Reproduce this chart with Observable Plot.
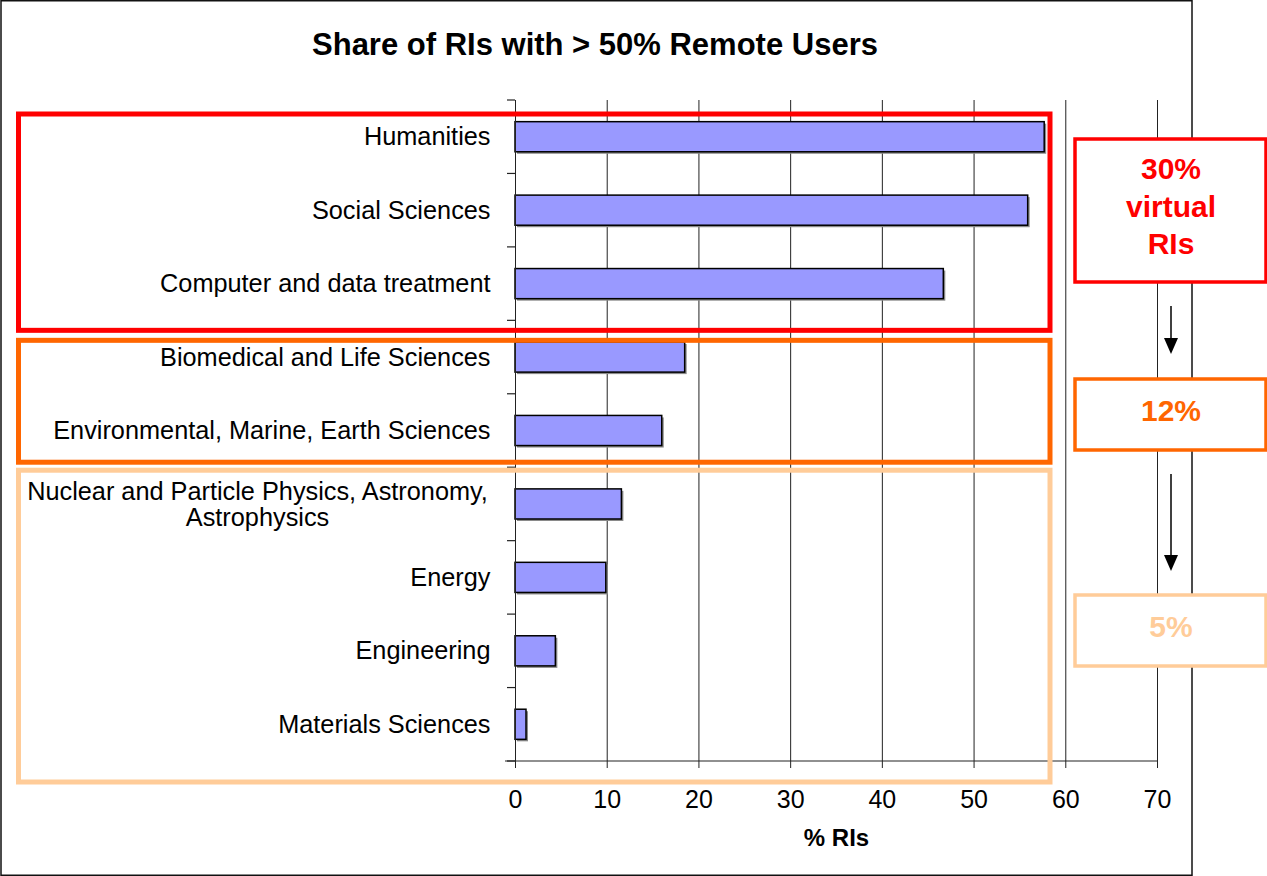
<!DOCTYPE html>
<html><head><meta charset="utf-8">
<script src="https://cdn.jsdelivr.net/npm/d3@7"></script>
<script src="https://cdn.jsdelivr.net/npm/@observablehq/plot@0.6"></script>
<style>
body{margin:0;background:#fff;}
#chart svg{display:block;font-family:"Liberation Sans",Arial,sans-serif;}
</style>
</head><body><div id="chart"></div>
<script>
const title = "Share of RIs with > 50% Remote Users";
const categories = [
  "Humanities",
  "Social Sciences",
  "Computer and data treatment",
  "Biomedical and Life Sciences",
  "Environmental, Marine, Earth Sciences",
  "Nuclear and Particle Physics, Astronomy,\nAstrophysics",
  "Energy",
  "Engineering",
  "Materials Sciences"
];
const values = [57.7, 55.9, 46.7, 18.5, 16.0, 11.6, 9.9, 4.4, 1.2];
const xTicks = [0, 10, 20, 30, 40, 50, 60, 70];
const xLabel = "% RIs";
// category groups (first index, last index) and their side notes
const groupFirst = [0, 3, 5];
const groupLast = [2, 4, 8];
const groupColors = ["#ff0000", "#ff6600", "#ffcc99"];
const groupNotes = [["30%", "virtual", "RIs"], ["12%"], ["5%"]];

const data = categories.map((c, i) => ({cat: c, value: values[i]}));
const single = data.filter(d => !d.cat.includes("\n"));
const multi = data.filter(d => d.cat.includes("\n"));

const W = 1267, H = 876;
const plot = Plot.plot({
  width: W, height: H,
  marginLeft: 515, marginRight: 110, marginTop: 100, marginBottom: 115,
  x: {domain: [0, 70], ticks: xTicks},
  y: {domain: categories, paddingInner: 0.59, paddingOuter: 0.295, round: false, axis: null},
  style: {fontFamily: '"Liberation Sans", Arial, sans-serif', fontSize: "24px", color: "#000", background: "#fff"},
  marks: [
    Plot.gridX(xTicks, {stroke: "#222", strokeOpacity: 1, strokeWidth: 1}),
    Plot.barX(data, {x: "value", y: "cat", fill: "#8a8a8a", dx: 2, dy: 2}),
    Plot.barX(data, {x: "value", y: "cat", fill: "#9999ff", stroke: "#000", strokeWidth: 1.5}),
    Plot.ruleX([0], {stroke: "#222"}),
    Plot.axisX(xTicks, {tickSize: 7, tickPadding: 22, fontSize: 25, label: null, stroke: "#222"}),
    Plot.text(single, {x: 0, y: "cat", text: "cat", textAnchor: "end", dx: -25, fontSize: 25.3}),
    Plot.text(multi, {x: 0, y: "cat", text: "cat", textAnchor: "middle", dx: -258, fontSize: 25.3, lineHeight: 1.05}),
    Plot.text([xLabel], {frameAnchor: "bottom", dy: 84, fontWeight: "bold", fontSize: 24, text: d => d})
  ]
});
document.getElementById("chart").appendChild(plot);

const svg = d3.select(plot);
const ys = plot.scale("y");
const xs = plot.scale("x");
const y0 = Math.min(...ys.range);
const b = i => y0 + i * ys.step;
const x0 = xs.apply(0);

// y axis ticks at category boundaries
const g = svg.append("g");
for (let i = 0; i <= categories.length; i++) {
  g.append("line").attr("x1", x0 - 8).attr("x2", x0).attr("y1", b(i)).attr("y2", b(i))
    .attr("stroke", "#222").attr("stroke-width", 1.2);
}
// bottom axis line extends to boundary tick
g.append("line").attr("x1", x0 - 10).attr("x2", xs.apply(70)).attr("y1", b(categories.length)).attr("y2", b(categories.length)).attr("stroke", "#222").attr("stroke-width", 1.2);

// group boxes
const boxTop = [b(0) + 14, b(3) + 20, b(5) + 3];
const boxBot = [b(3) + 10, b(5) - 5, b(9) + 21];
groupColors.forEach((c, k) => {
  g.append("rect").attr("x", 18.5).attr("y", boxTop[k]).attr("width", 1050 - 18.5).attr("height", boxBot[k] - boxTop[k])
    .attr("fill", "none").attr("stroke", c).attr("stroke-width", 5);
});

// outer frame
g.append("rect").attr("x", 1).attr("y", 0.75).attr("width", 1191).attr("height", 874.5)
  .attr("fill", "none").attr("stroke", "#111").attr("stroke-width", 1.5);

// side note boxes
const noteTop = [139, 379, 595];
const noteBot = [282, 450, 666];
const noteX = 1075, noteW = 1266 - 1075, noteCx = 1171;
groupColors.forEach((c, k) => {
  g.append("rect").attr("x", noteX).attr("y", noteTop[k]).attr("width", noteW).attr("height", noteBot[k] - noteTop[k])
    .attr("fill", "#fff").attr("stroke", c).attr("stroke-width", 3.5);
  const lines = groupNotes[k];
  const cy = (noteTop[k] + noteBot[k]) / 2 - 4.5;
  const lh = 37.5;
  lines.forEach((t, j) => {
    g.append("text").attr("x", noteCx).attr("y", cy + (j - (lines.length - 1) / 2) * lh)
      .attr("text-anchor", "middle").attr("dominant-baseline", "central")
      .attr("font-size", 30).attr("font-weight", "bold").attr("fill", c).text(t);
  });
});
// arrows between notes
const arrows = [[306, 354], [474, 571]];
arrows.forEach(([a1, a2]) => {
  g.append("line").attr("x1", noteCx).attr("x2", noteCx).attr("y1", a1).attr("y2", a2 - 14).attr("stroke", "#000").attr("stroke-width", 1.5);
  g.append("path").attr("d", `M${noteCx - 7},${a2 - 16} L${noteCx + 7},${a2 - 16} L${noteCx},${a2} Z`).attr("fill", "#000");
});

// title
g.append("text").attr("x", 595).attr("y", 44).attr("text-anchor", "middle").attr("dominant-baseline", "central")
  .attr("font-size", 31).attr("font-weight", "bold").attr("fill", "#000").text(title);
</script>
</body></html>
